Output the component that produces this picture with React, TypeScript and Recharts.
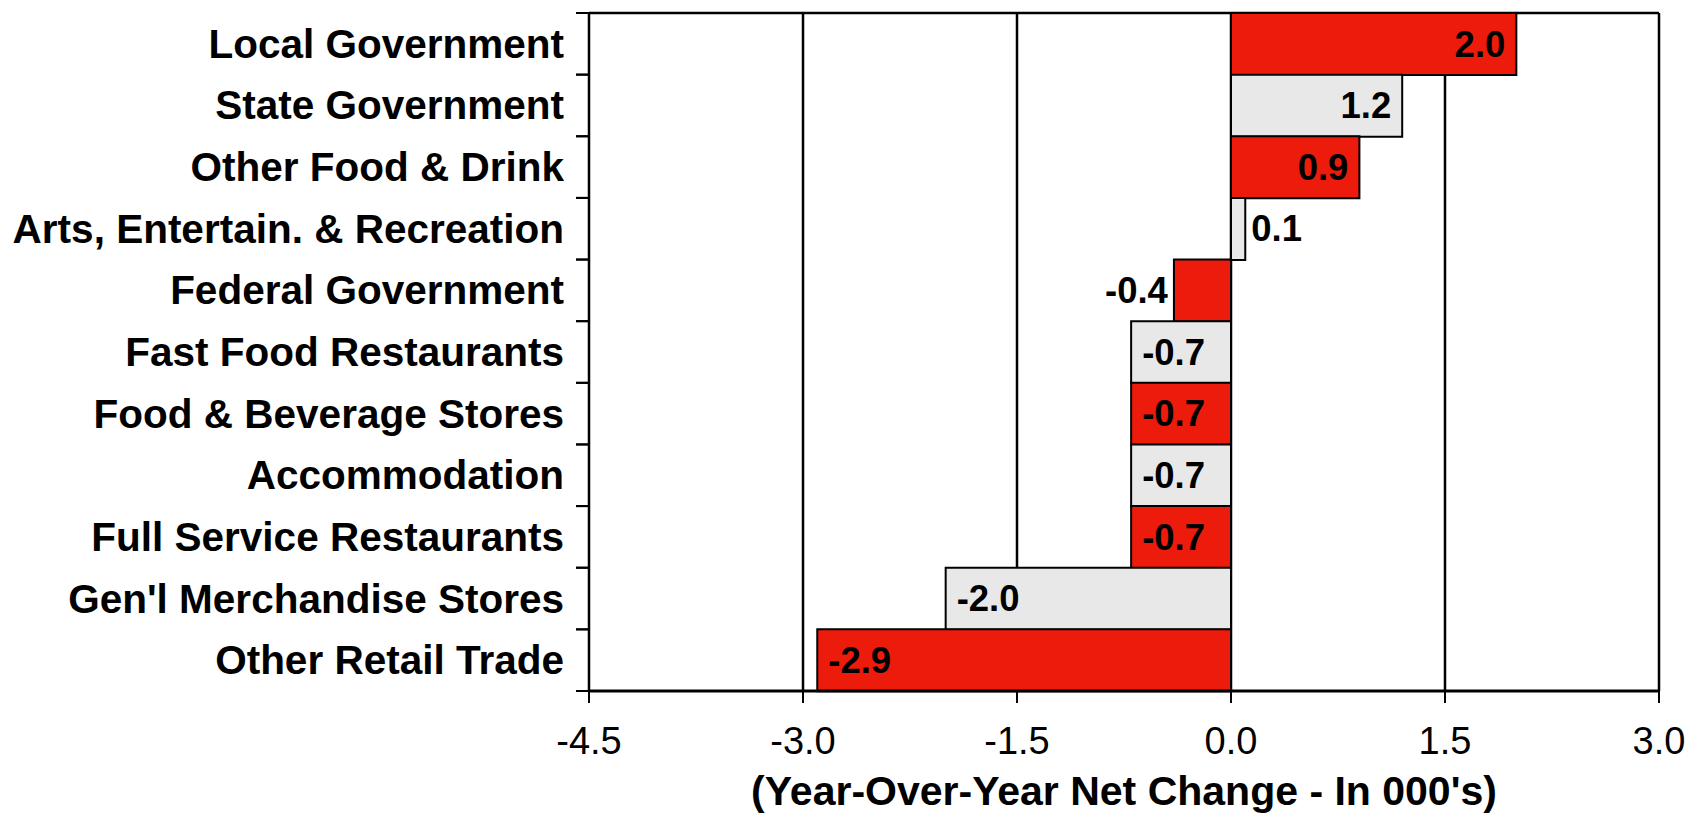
import React from "react";
import {
  BarChart,
  Bar,
  XAxis,
  YAxis,
  CartesianGrid,
  Cell,
  LabelList,
} from "recharts";

const categories = [
  "Local Government",
  "State Government",
  "Other Food & Drink",
  "Arts, Entertain. & Recreation",
  "Federal Government",
  "Fast Food Restaurants",
  "Food & Beverage Stores",
  "Accommodation",
  "Full Service Restaurants",
  "Gen'l Merchandise Stores",
  "Other Retail Trade",
];

const values = [2.0, 1.2, 0.9, 0.1, -0.4, -0.7, -0.7, -0.7, -0.7, -2.0, -2.9];

const xTicks = [-4.5, -3.0, -1.5, 0.0, 1.5, 3.0];

const RED = "#EC1B0B";
const GRAY = "#E8E8E8";
const FONT = "'Liberation Sans', Arial, sans-serif";

const data = categories.map((name, i) => ({ name, value: values[i] }));

// category label + short tick marks at the band boundaries
function CategoryTick(props: any) {
  const { x, y, payload } = props;
  const off = payload.offset || 0;
  return (
    <g>
      <line x1={x + 12} x2={x + 25} y1={y - off} y2={y - off} stroke="#000" strokeWidth={2} />
      <line x1={x + 12} x2={x + 25} y1={y + off} y2={y + off} stroke="#000" strokeWidth={2} />
      <text
        x={x}
        y={y}
        textAnchor="end"
        dominantBaseline="central"
        fontFamily={FONT}
        fontWeight="bold"
        fontSize={40.5}
        fill="#000"
      >
        {payload.value}
      </text>
    </g>
  );
}

function ValueLabel(props: any) {
  const { x, y, width, height, value } = props;
  const left = Math.min(x, x + width);
  const right = Math.max(x, x + width);
  const cy = y + height / 2;
  const big = Math.abs(value) >= 0.7;
  let tx = 0;
  let anchor = "start";
  if (value >= 0) {
    tx = big ? right - 11 : right + 6;
    anchor = big ? "end" : "start";
  } else {
    tx = big ? left + 11 : left - 6;
    anchor = big ? "start" : "end";
  }
  return (
    <text
      x={tx}
      y={cy}
      textAnchor={anchor}
      dominantBaseline="central"
      fontFamily={FONT}
      fontWeight="bold"
      fontSize={36.5}
      fill="#000"
    >
      {value.toFixed(1)}
    </text>
  );
}

export default function App() {
  return (
    <div style={{ position: "absolute", left: 0, top: 0, background: "#fff" }}>
      <BarChart
        width={1695}
        height={814}
        data={data}
        layout="vertical"
        barCategoryGap={0}
        margin={{ top: 13, right: 36, bottom: 0, left: 0 }}
      >
        {/* vertical gridlines + the top border of the plot */}
        <CartesianGrid
          stroke="#000"
          strokeWidth={2.5}
          horizontalCoordinatesGenerator={({ offset }: any) => [offset.top]}
        />
        <XAxis
          type="number"
          dataKey="value"
          domain={[-4.5, 3]}
          ticks={xTicks}
          allowDataOverflow
          tickFormatter={(v: number) => v.toFixed(1)}
          tick={{ fontSize: 38, fill: "#000", fontFamily: FONT }}
          tickSize={12}
          tickMargin={24}
          tickLine={{ stroke: "#000", strokeWidth: 2 }}
          axisLine={{ stroke: "#000", strokeWidth: 3 }}
          height={123}
          label={{
            value: "(Year-Over-Year Net Change - In 000's)",
            position: "insideBottom",
            offset: 9,
            fontSize: 41,
            fontWeight: "bold",
            fill: "#000",
            fontFamily: FONT,
          }}
        />
        <YAxis
          type="category"
          dataKey="name"
          width={589}
          tickSize={13}
          tickMargin={12}
          tickLine={false}
          tick={<CategoryTick />}
          interval={0}
          axisLine={{ stroke: "#000", strokeWidth: 2 }}
        />
        <Bar dataKey="value" stroke="#000" strokeWidth={2} isAnimationActive={false}>
          {data.map((d, i) => (
            <Cell key={d.name} fill={i % 2 === 0 ? RED : GRAY} />
          ))}
          <LabelList dataKey="value" content={<ValueLabel />} />
        </Bar>
      </BarChart>
    </div>
  );
}
